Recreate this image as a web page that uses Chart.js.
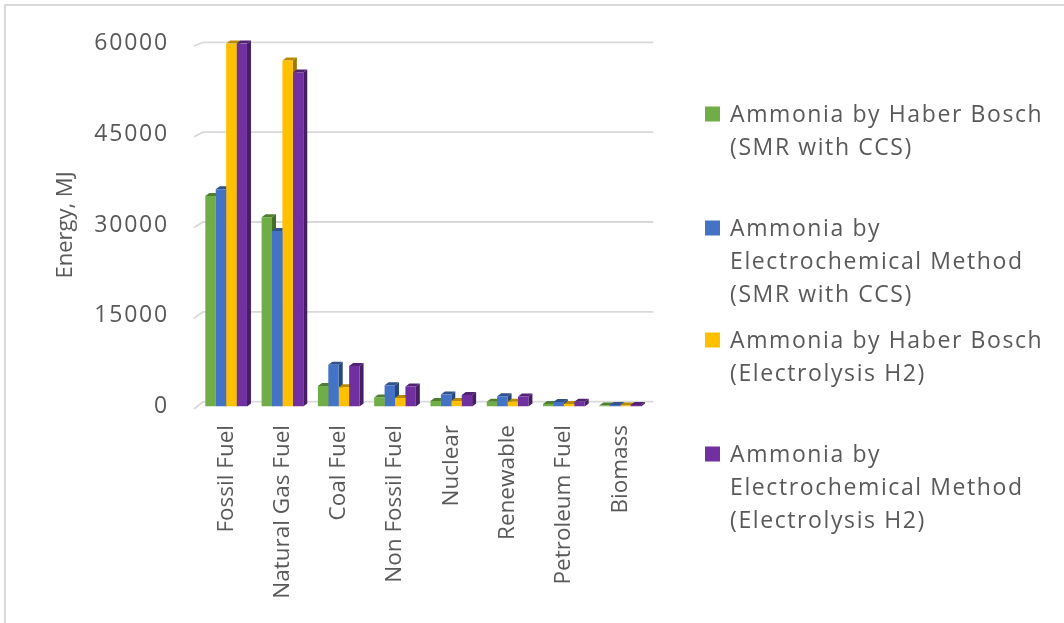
<!DOCTYPE html>
<html>
<head>
<meta charset="utf-8">
<title>Energy use of ammonia production routes</title>
<script src="https://cdn.jsdelivr.net/npm/chart.js@4/dist/chart.umd.min.js"></script>
<style>
  html, body { margin: 0; padding: 0; background: #ffffff; }
  #wrap { width: 1064px; height: 623px; position: relative; }
</style>
</head>
<body>
<div id="wrap"><canvas id="chart"></canvas></div>
<script>
// ---- data -------------------------------------------------------------
const categories = ['Fossil Fuel', 'Natural Gas Fuel', 'Coal Fuel', 'Non Fossil Fuel',
                    'Nuclear', 'Renewable', 'Petroleum Fuel', 'Biomass'];

const seriesNames = [
  'Ammonia by Haber Bosch (SMR with CCS)',
  'Ammonia by Electrochemical Method (SMR with CCS)',
  'Ammonia by Haber Bosch (Electrolysis H2)',
  'Ammonia by Electrochemical Method (Electrolysis H2)'
];

// Energy, MJ
const haberSmr            = [34800, 31300, 3400, 1500,  900,  800, 400, 150];
const electroSmr          = [35900, 29000, 6900, 3500, 2000, 1700, 750, 250];
const haberElectrolysis   = [60000, 57200, 3200, 1400,  900,  800, 400, 150];
const electroElectrolysis = [60000, 55200, 6700, 3300, 1900, 1650, 800, 250];

const seriesColors = ['#70AD47', '#4472C4', '#FFC000', '#7030A0'];

const yTicks = [0, 15000, 30000, 45000, 60000];

// ---- helpers ----------------------------------------------------------
const TEXT = '#595959';
const GRID = '#D9D9D9';
const DX = 4, DY = 3;            // depth of the 3-D bar faces

function shade(hex, f) {
  const n = parseInt(hex.slice(1), 16);
  const r = Math.round(((n >> 16) & 255) * f);
  const g = Math.round(((n >> 8) & 255) * f);
  const b = Math.round((n & 255) * f);
  return `rgb(${r},${g},${b})`;
}

function wrapText(ctx, text, maxWidth) {
  const words = text.split(' ');
  const lines = [];
  let cur = '';
  for (const w of words) {
    const test = cur ? cur + ' ' + w : w;
    if (cur && ctx.measureText(test).width > maxWidth) {
      lines.push(cur);
      cur = w;
    } else {
      cur = test;
    }
  }
  if (cur) lines.push(cur);
  return lines;
}

// Outer frame of the chart and text spacing for the axis layers
const framePlugin = {
  id: 'frame',
  beforeDraw(chart) {
    const ctx = chart.ctx;
    ctx.letterSpacing = '0px';
    ctx.save();
    ctx.strokeStyle = GRID;
    ctx.lineWidth = 2;
    ctx.strokeRect(5, 5, 1200, 800);
    ctx.restore();
  },
  afterDatasetsDraw(chart) {
    // value labels on the y axis are drawn after the bars (ticks.z = 1)
    chart.ctx.letterSpacing = '1.8px';
  }
};

// Back-wall gridlines plus the side and top faces of every bar
const depthPlugin = {
  id: 'depth',
  beforeDatasetsDraw(chart) {
    const ctx = chart.ctx;
    const y = chart.scales.y;
    const { left, right, bottom } = chart.chartArea;
    ctx.save();

    // gridlines on the back wall with a short slanted stub on the side wall
    ctx.strokeStyle = GRID;
    ctx.lineWidth = 1.8;
    for (const v of yTicks) {
      const fy = y.getPixelForValue(v);
      const by = (bottom - 4.8) - (bottom - fy) * 0.99;
      ctx.beginPath();
      ctx.moveTo(left - 4, fy + 2.5);
      ctx.lineTo(left + 5, by);
      ctx.lineTo(right + 5, by);
      ctx.stroke();
    }

    const bars = [];
    chart.data.datasets.forEach((ds, i) => {
      const meta = chart.getDatasetMeta(i);
      if (meta.hidden) return;
      meta.data.forEach(el => bars.push({ el, color: ds.backgroundColor }));
    });

    // side faces
    for (const b of bars) {
      const { x, y: top, base, width } = b.el.getProps(['x', 'y', 'base', 'width'], true);
      const r = x + width / 2;
      ctx.fillStyle = shade(b.color, 0.62);
      ctx.beginPath();
      ctx.moveTo(r, top);
      ctx.lineTo(r + DX, top - DY);
      ctx.lineTo(r + DX, base - DY);
      ctx.lineTo(r, base);
      ctx.closePath();
      ctx.fill();
    }
    // top faces
    for (const b of bars) {
      const { x, y: top, width } = b.el.getProps(['x', 'y', 'width'], true);
      const l = x - width / 2, r = x + width / 2;
      ctx.fillStyle = shade(b.color, 0.72);
      ctx.beginPath();
      ctx.moveTo(l, top);
      ctx.lineTo(l + DX, top - DY);
      ctx.lineTo(r + DX, top - DY);
      ctx.lineTo(r, top);
      ctx.closePath();
      ctx.fill();
    }
    ctx.restore();
  }
};

// Legend on the right, with wrapped series names
const LEGEND_X = 705;
const LEGEND_TEXT_X = 730;
const LEGEND_BASELINES = [122, 236, 348, 462];
const LEGEND_LINE = 33;

const legendPlugin = {
  id: 'sideLegend',
  afterDraw(chart) {
    const ctx = chart.ctx;
    ctx.save();
    ctx.letterSpacing = '1.6px';
    ctx.font = '23px "Open Sans"';
    ctx.textBaseline = 'alphabetic';
    ctx.textAlign = 'left';
    chart.data.datasets.forEach((ds, i) => {
      const base = LEGEND_BASELINES[i];
      ctx.fillStyle = ds.backgroundColor;
      ctx.fillRect(LEGEND_X, base - 15.5, 15, 15);
      ctx.fillStyle = TEXT;
      wrapText(ctx, ds.label, 330).forEach((t, j) => {
        ctx.fillText(t, LEGEND_TEXT_X, base + j * LEGEND_LINE);
      });
    });
    ctx.restore();
    ctx.letterSpacing = '0px';
  }
};

// ---- chart ------------------------------------------------------------
Chart.defaults.font.family = '"Open Sans", "DejaVu Sans", sans-serif';
Chart.defaults.color = TEXT;

const seriesValues = [haberSmr, electroSmr, haberElectrolysis, electroElectrolysis];

new Chart(document.getElementById('chart'), {
  type: 'bar',
  data: {
    labels: categories,
    datasets: seriesValues.map((vals, i) => ({
      label: seriesNames[i],
      data: vals,
      backgroundColor: seriesColors[i],
      borderWidth: 0,
      barPercentage: 1.0,
      categoryPercentage: 0.74
    }))
  },
  options: {
    responsive: true,
    maintainAspectRatio: false,
    animation: false,
    layout: { padding: { left: 0, top: 43.5, right: 415.7, bottom: 0 } },
    plugins: {
      legend: { display: false },
      tooltip: { enabled: false }
    },
    scales: {
      x: {
        grid: { display: false, drawTicks: false },
        border: { display: false },
        ticks: {
          autoSkip: false,
          minRotation: 90,
          maxRotation: 90,
          padding: 18.5,
          color: TEXT,
          font: { size: 22.5 }
        },
        afterFit(scale) { scale.height = 216.5; }
      },
      y: {
        min: yTicks[0],
        max: yTicks[yTicks.length - 1],
        grid: { display: false, drawTicks: false },
        border: { display: false },
        ticks: {
          stepSize: yTicks[1] - yTicks[0],
          callback: (value) => String(value),
          padding: 29,
          color: TEXT,
          font: { size: 23 },
          z: 1
        },
        title: {
          display: true,
          text: 'Energy, MJ',
          color: TEXT,
          font: { size: 22 },
          padding: { top: 53, bottom: 0 }
        },
        afterFit(scale) { scale.width = 198; }
      }
    }
  },
  plugins: [framePlugin, depthPlugin, legendPlugin]
});
</script>
</body>
</html>
